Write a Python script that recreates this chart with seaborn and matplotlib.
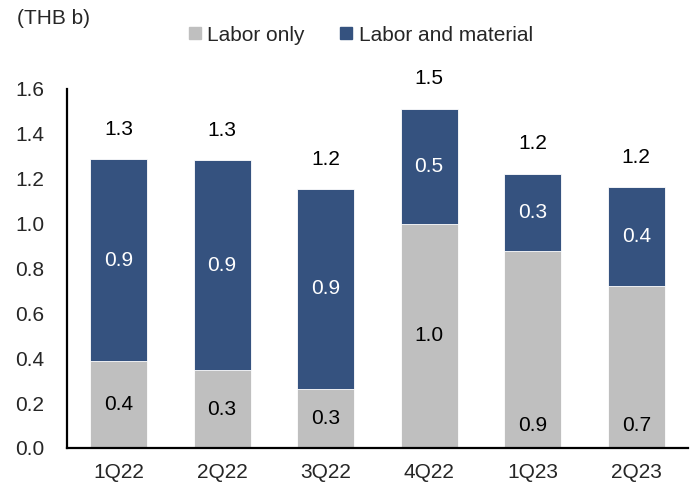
import matplotlib
matplotlib.use('Agg')
import matplotlib.pyplot as plt
import seaborn as sns
import pandas as pd
from matplotlib.lines import Line2D
from matplotlib.ticker import FixedLocator

# Data (THB b)
quarters = ['1Q22', '2Q22', '3Q22', '4Q22', '1Q23', '2Q23']
labor_only = [0.386, 0.346, 0.264, 1.00, 0.878, 0.722]
labor_material = [0.90, 0.937, 0.89, 0.511, 0.344, 0.441]
totals = [a + b for a, b in zip(labor_only, labor_material)]

# where the gray labels sit: centre of segment, or near the base
gray_label_pos = ['center', 'center', 'center', 'center', 'base', 'base']

gray = '#BFBFBF'
navy = '#35527F'
fs = 15

df = pd.DataFrame({'quarter': quarters, 'labor_only': labor_only,
                   'labor_material': labor_material, 'total': totals})

sns.set_style('white')
plt.rcParams['font.family'] = ['Liberation Sans', 'DejaVu Sans']
plt.rcParams['font.size'] = fs

fig = plt.figure(figsize=(6.99, 4.88), dpi=100)
ax = fig.add_axes([0.0954, 0.082, 0.889, 0.736])

# stacked bars: draw total in navy, then labor only in gray on top
sns.barplot(data=df, x='quarter', y='total', color=navy, width=0.55,
            saturation=1, edgecolor='white', linewidth=0.6, ax=ax)
sns.barplot(data=df, x='quarter', y='labor_only', color=gray, width=0.55,
            saturation=1, edgecolor='white', linewidth=0.6, ax=ax)

for i in range(len(quarters)):
    lo = labor_only[i]
    lm = labor_material[i]
    tot = totals[i]
    if gray_label_pos[i] == 'center':
        y_lo = lo / 2
    else:
        y_lo = 0.1
    ax.text(i, y_lo, f'{lo:.1f}', ha='center', va='center', color='black', fontsize=fs)
    ax.text(i, lo + lm / 2, f'{lm:.1f}', ha='center', va='center', color='white', fontsize=fs)
    ax.annotate(f'{tot:.1f}', xy=(i, tot), xytext=(0, 21.5), textcoords='offset points',
                ha='center', va='center', fontsize=fs, color='black')

ax.set_xlim(-0.5, len(quarters) - 0.5)
ax.set_ylim(0, 1.6)
ax.set_yticks([0, 0.2, 0.4, 0.6, 0.8, 1.0, 1.2, 1.4, 1.6])
ax.set_yticklabels([f'{v:.1f}' for v in ax.get_yticks()])
ax.set_xlabel('')
ax.set_ylabel('')

for s in ['top', 'right']:
    ax.spines[s].set_visible(False)
for s in ['left', 'bottom']:
    ax.spines[s].set_color('black')
    ax.spines[s].set_linewidth(1.6)

ax.tick_params(axis='y', direction='out', length=4, width=1.6, color='black', pad=12, labelsize=fs)
ax.tick_params(axis='x', which='major', length=0, pad=11, labelsize=fs)
ax.xaxis.set_minor_locator(FixedLocator([i - 0.5 for i in range(len(quarters) + 1)]))
ax.tick_params(axis='x', which='minor', direction='out', length=5, width=1.6, color='black')

fig.text(0.024, 0.962, '(THB b)', ha='left', va='center', fontsize=fs)

handles = [Line2D([], [], marker='s', linestyle='', markersize=8, color=gray),
           Line2D([], [], marker='s', linestyle='', markersize=8, color=navy)]
fig.legend(handles, ['Labor only', 'Labor and material'], loc='center',
           bbox_to_anchor=(0.513, 0.928), ncol=2, frameon=False, fontsize=fs,
           handletextpad=0.1, columnspacing=1.5, handlelength=1.0)

fig.savefig('out.png', dpi=100)
